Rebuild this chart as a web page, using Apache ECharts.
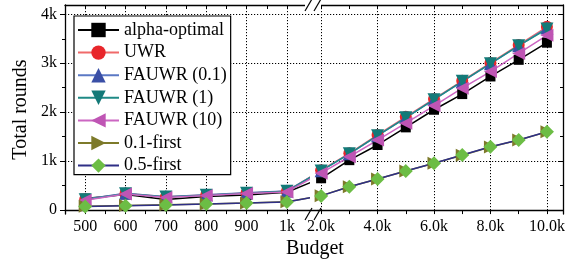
<!DOCTYPE html>
<html>
<head>
<meta charset="utf-8">
<script src="https://cdn.jsdelivr.net/npm/echarts@6/dist/echarts.min.js"></script>
<style>
  body { margin: 0; background: #fff; }
  #chart { width: 575px; height: 266px; }
</style>
</head>
<body>
<div id="chart"></div>
<script>
// budgets (x) and total rounds per method
const budgets = [500, 600, 700, 800, 900, 1000, 2000, 3000, 4000, 5000, 6000, 7000, 8000, 9000, 10000];
const alphaOptimal = [235, 320, 215, 280, 310, 365, 650, 1020, 1330, 1690, 2050, 2370, 2730, 3070, 3420];
const uwr = [215, 340, 270, 310, 350, 385, 815, 1160, 1535, 1905, 2270, 2640, 3005, 3375, 3745];
const fauwr01 = [220, 345, 275, 315, 355, 390, 805, 1150, 1520, 1890, 2260, 2625, 2990, 3355, 3720];
const fauwr1 = [212, 335, 265, 305, 345, 385, 800, 1150, 1520, 1885, 2255, 2630, 2990, 3360, 3700];
const fauwr10 = [200, 330, 258, 300, 340, 372, 755, 1090, 1430, 1775, 2130, 2490, 2830, 3200, 3570];
const first01 = [78, 92, 108, 125, 145, 168, 295, 475, 635, 797, 955, 1122, 1290, 1432, 1598];
const first05 = [72, 90, 104, 123, 143, 166, 290, 477, 634, 797, 955, 1125, 1294, 1431, 1601];

// tick labels
const leftTicks = [500, 600, 700, 800, 900, 1000];
const leftTickLabels = ['500', '600', '700', '800', '900', '1k'];
const rightTicks = [2000, 4000, 6000, 8000, 10000];
const rightTickLabels = ['2.0k', '4.0k', '6.0k', '8.0k', '10.0k'];
const yTicks = [0, 1000, 2000, 3000, 4000];
const yTickLabels = ['0', '1k', '2k', '3k', '4k'];
const yMinorTicks = [500, 1500, 2500, 3500];
const leftMinorTicks = [500, 550, 600, 650, 700, 750, 800, 850, 900, 950, 1000];
const rightMinorTicks = [2000, 3000, 4000, 5000, 6000, 7000, 8000, 9000, 10000];

const FONT = 'Liberation Serif';

// layout of the broken x axis: two grids + small connector grid
const plotTop = 5, plotHeight = 209;
const g0 = { left: 65, width: 253, min: 450, max: 1077 };
const g1 = { left: 318, width: 245, min: 1890, max: 10570 };
const yMin = -80, yMax = 4190;
const breakX = 305;
const gapEnd = 308;
const px0 = v => g0.left + (v - g0.min) / (g0.max - g0.min) * g0.width;
const px1 = v => g1.left + (v - g1.min) / (g1.max - g1.min) * g1.width;
const conLeft = px0(1000);
const conSpan = px1(2000) - conLeft;
const conWidth = gapEnd - conLeft;
const conMax = 1000 + conWidth / conSpan * 1000;

const styles = [
  { name: 'alpha-optimal', vals: alphaOptimal, color: '#000000', line: '#000000', symbol: 'rect', size: 10, rot: 0 },
  { name: 'UWR', vals: uwr, color: '#e8262b', line: '#f06a6a', symbol: 'circle', size: 12, rot: 0 },
  { name: 'FAUWR (0.1)', vals: fauwr01, color: '#3a4fa6', line: '#5b78c4', symbol: 'triangle', size: 13, rot: 0 },
  { name: 'FAUWR (1)', vals: fauwr1, color: '#137a78', line: '#1f8a86', symbol: 'triangle', size: 13, rot: 180 },
  { name: 'FAUWR (10)', vals: fauwr10, color: '#bf55b4', line: '#cc66c2', symbol: 'triangle', size: 13, rot: 90 },
  { name: '0.1-first', vals: first01, color: '#7d7a2a', line: '#7d7a2a', symbol: 'triangle', size: 13, rot: -90 },
  { name: '0.5-first', vals: first05, color: '#6cbd45', line: '#2f2f86', symbol: 'diamond', size: 14, rot: 0 }
];

const series = [];
styles.forEach(s => {
  const pts = budgets.map((b, i) => [b, s.vals[i]]);
  const base = {
    name: s.name,
    type: 'line',
    symbol: s.symbol,
    symbolSize: s.size,
    symbolRotate: s.rot,
    itemStyle: { color: s.color },
    lineStyle: { color: s.line, width: 1.5 },
    animation: false
  };
  series.push(Object.assign({}, base, { xAxisIndex: 0, yAxisIndex: 0, data: pts.filter(p => p[0] <= 1000) }));
  series.push(Object.assign({}, base, { xAxisIndex: 3, yAxisIndex: 2, data: pts.filter(p => p[0] >= 2000) }));
  series.push(Object.assign({}, base, {
    xAxisIndex: 6, yAxisIndex: 4, symbol: 'none', clip: true,
    data: pts.filter(p => p[0] === 1000 || p[0] === 2000)
  }));
});

const dotted = { show: true, lineStyle: { color: '#000', width: 1, type: [1.2, 1.8] } };
const axisLine = { show: true, lineStyle: { color: '#000', width: 1.3 } };
const noLine = { show: false };
const noLabel = { show: false };
const noSplit = { show: false };

const xAxis = [
  { gridIndex: 0, type: 'value', position: 'bottom', min: g0.min, max: g0.max, axisLine: axisLine,
    axisTick: { show: false, customValues: leftTicks },
    axisLabel: { customValues: leftTicks, formatter: v => leftTickLabels[leftTicks.indexOf(v)],
      color: '#000', fontFamily: FONT, fontSize: 16, margin: 5 },
    splitLine: dotted },
  { gridIndex: 0, type: 'value', position: 'bottom', min: g0.min, max: g0.max, axisLine: noLine,
    axisTick: { show: true, inside: false, length: 4, customValues: leftMinorTicks, lineStyle: { color: '#000' } },
    axisLabel: noLabel, splitLine: noSplit },
  { gridIndex: 0, type: 'value', position: 'top', min: g0.min, max: g0.max, axisLine: axisLine,
    axisTick: { show: true, inside: true, length: 4, customValues: leftMinorTicks, lineStyle: { color: '#000' } },
    axisLabel: noLabel, splitLine: noSplit },
  { gridIndex: 1, type: 'value', position: 'bottom', min: g1.min, max: g1.max, axisLine: axisLine,
    axisTick: { show: false, customValues: rightTicks },
    axisLabel: { customValues: rightTicks, formatter: v => rightTickLabels[rightTicks.indexOf(v)],
      color: '#000', fontFamily: FONT, fontSize: 16, margin: 5 },
    splitLine: dotted },
  { gridIndex: 1, type: 'value', position: 'bottom', min: g1.min, max: g1.max, axisLine: noLine,
    axisTick: { show: true, inside: false, length: 4, customValues: rightMinorTicks, lineStyle: { color: '#000' } },
    axisLabel: noLabel, splitLine: noSplit },
  { gridIndex: 1, type: 'value', position: 'top', min: g1.min, max: g1.max, axisLine: axisLine,
    axisTick: { show: true, inside: true, length: 4, customValues: rightMinorTicks, lineStyle: { color: '#000' } },
    axisLabel: noLabel, splitLine: noSplit },
  { gridIndex: 2, type: 'value', show: false, min: 1000, max: conMax }
];

const yAxis = [
  { gridIndex: 0, type: 'value', position: 'left', min: yMin, max: yMax, axisLine: axisLine,
    axisTick: { show: true, inside: false, length: 5, customValues: yTicks, lineStyle: { color: '#000' } },
    axisLabel: { customValues: yTicks, formatter: v => yTickLabels[yTicks.indexOf(v)],
      color: '#000', fontFamily: FONT, fontSize: 16, margin: 8 },
    splitLine: dotted,
    name: 'Total rounds', nameLocation: 'middle', nameGap: 34, nameRotate: 90,
    nameTextStyle: { color: '#000', fontFamily: FONT, fontSize: 20 } },
  { gridIndex: 0, type: 'value', position: 'left', min: yMin, max: yMax, axisLine: noLine,
    axisTick: { show: true, inside: false, length: 3, customValues: yMinorTicks, lineStyle: { color: '#000' } },
    axisLabel: noLabel, splitLine: noSplit },
  { gridIndex: 1, type: 'value', position: 'right', min: yMin, max: yMax, axisLine: axisLine,
    axisTick: { show: true, inside: true, length: 5, customValues: yTicks, lineStyle: { color: '#000' } },
    axisLabel: noLabel, splitLine: dotted },
  { gridIndex: 1, type: 'value', position: 'right', min: yMin, max: yMax, axisLine: noLine,
    axisTick: { show: true, inside: true, length: 3, customValues: yMinorTicks, lineStyle: { color: '#000' } },
    axisLabel: noLabel, splitLine: noSplit },
  { gridIndex: 2, type: 'value', show: false, min: yMin, max: yMax }
];

// break marks "//" on top and bottom frame lines
const breakGraphics = [];
[plotTop, plotTop + plotHeight].forEach(y => {
  breakGraphics.push({ type: 'rect', shape: { x: breakX, y: y - 2, width: g1.left - breakX + 3, height: 4 },
    style: { fill: '#fff' }, z: 100 });
  [0, 9].forEach(dx => {
    breakGraphics.push({ type: 'line', shape: { x1: breakX + dx, y1: y + 6, x2: breakX + dx + 7, y2: y - 6 },
      style: { stroke: '#000', lineWidth: 1.2 }, z: 101 });
  });
});

const chart = echarts.init(document.getElementById('chart'), null, { renderer: 'canvas' });
chart.setOption({
  animation: false,
  grid: [
    { left: g0.left, top: plotTop, width: g0.width, height: plotHeight },
    { left: g1.left, top: plotTop, width: g1.width, height: plotHeight },
    { left: conLeft, top: plotTop, width: conWidth, height: plotHeight }
  ],
  xAxis: xAxis,
  yAxis: yAxis,
  legend: {
    data: styles.map(s => s.name),
    orient: 'vertical',
    left: 74, top: 16,
    backgroundColor: '#fff',
    borderColor: '#000', borderWidth: 1.2,
    padding: [5, 4, 0, 3],
    itemWidth: 41, itemHeight: 18, itemGap: 4.6,
    selectedMode: false,
    textStyle: { color: '#000', fontFamily: FONT, fontSize: 18, lineHeight: 18 }
  },
  graphic: breakGraphics.concat([
    { type: 'text', x: (g0.left + g1.left + g1.width) / 2 + 1, y: 249,
      style: { text: 'Budget', fill: '#000', font: '20px "Liberation Serif"', textAlign: 'center', textVerticalAlign: 'middle' } }
  ]),
  series: series
});
</script>
</body>
</html>
